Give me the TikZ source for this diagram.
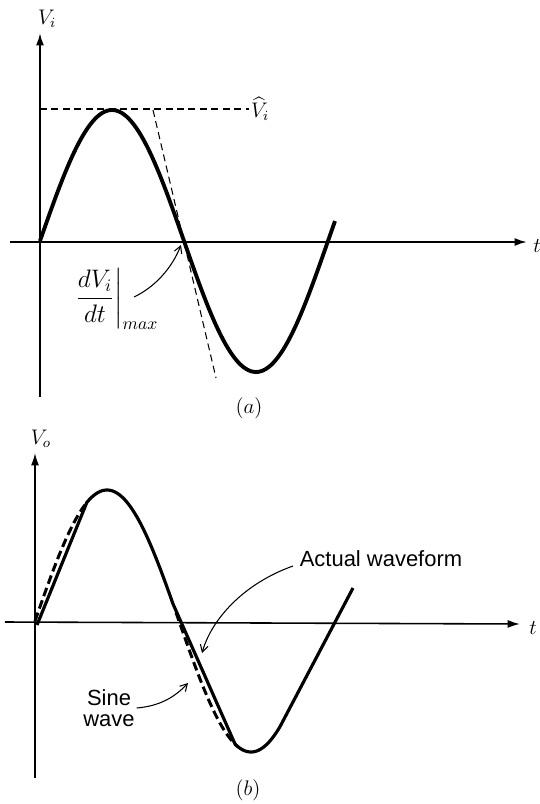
\documentclass[tikz,border=0pt]{standalone}
\usepackage{amsmath}
\usepackage{fontspec}
\newfontfamily\labelfont{Liberation Sans}
\usetikzlibrary{arrows.meta}

\begin{document}
\begin{tikzpicture}[
  x=0.02cm,y=-0.02cm,
  axis/.style={line width=1.1pt,-{Latex[length=7pt,width=4.5pt]}},
  wave/.style={line width=2.2pt,line join=round},
  guide/.style={line width=0.6pt,dash pattern=on 4pt off 2.5pt},
  sinedash/.style={line width=1.7pt,dash pattern=on 5pt off 2.5pt},
  pointer/.style={line width=0.6pt,-{Straight Barb[length=4pt,width=4.5pt]}},
  lbl/.style={inner sep=1pt,font=\large},
  txt/.style={font=\labelfont\fontsize{12.5}{14}\selectfont,align=center,inner sep=1pt}
  ]
  \useasboundingbox (0,0) rectangle (540,804);

  % (a) input
  \coordinate (ybota) at (40,397);
  \coordinate (ytopa) at (40,33);
  \coordinate (xlefta) at (10,242);
  \coordinate (xrighta) at (527,242);
  \draw[axis] (ybota) -- (ytopa);
  \draw[axis] (xlefta) -- (xrighta);
  \node[lbl] (vi) at (47,19) {$V_i$};
  \node[lbl] (ta) at (537,246) {$t$};

  \draw[wave] plot[domain=40:335,samples=120] (\x,{241-131*sin(1.25*(\x-40))});

  \coordinate (pka) at (40,109);
  \node[lbl,anchor=west] (vhat) at (249,109) {$\widehat{V}_i$};
  \draw[guide] (pka) -- (vhat.west);
  \coordinate (tga) at (153,110);
  \coordinate (tgb) at (216,378);
  \draw[guide] (tga) -- (tgb);

  \node[lbl,font=\Large] (slope) at (116,299) {$\left.\dfrac{dV_i}{dt}\right|_{max}$};
  \coordinate (sa) at (134,297);
  \coordinate (za) at (181,245);
  \draw[pointer] (sa) .. controls (155,287) and (172,268) .. (za);
  \node[lbl] (capa) at (249,408) {$(a)$};

  % (b) output
  \coordinate (ybotb) at (35,778);
  \coordinate (ytopb) at (35,453);
  \coordinate (xleftb) at (5,622);
  \coordinate (xrightb) at (520,624);
  \draw[axis,line width=0.9pt] (ybotb) -- (ytopb);
  \draw[axis,line width=0.9pt] (xleftb) -- (xrightb);
  \node[lbl] (vo) at (41,439) {$V_o$};
  \node[lbl] (tb) at (533,628) {$t$};

  \draw[sinedash] plot[domain=35:85,samples=30] (\x,{621-131*sin(1.25*(\x-35))});
  \draw[sinedash] plot[domain=176:238,samples=30] (\x,{621-131*sin(1.25*(\x-35))});
  \draw[wave,line width=1.8pt] (37,625) -- (87,502)
    -- plot[domain=87:173,samples=60] (\x,{621-131*sin(1.25*(\x-35))})
    -- (235,744)
    -- plot[domain=235:280,samples=40] (\x,{621-131*sin(1.25*(\x-35))})
    -- (353,588);

  \node[txt] (aw) at (381,559) {Actual waveform};
  \coordinate (awa) at (293,566);
  \coordinate (awb) at (202,653);
  \draw[pointer] (awa) .. controls (245,583) and (212,618) .. (awb);

  \node[txt] (sw) at (109,708) {Sine\\[-2pt]wave};
  \coordinate (swb) at (188,683);
  \draw[pointer] (sw.east) .. controls (160,706) and (175,697) .. (swb);
  \node[lbl] (capb) at (248,790) {$(b)$};
\end{tikzpicture}
\end{document}
